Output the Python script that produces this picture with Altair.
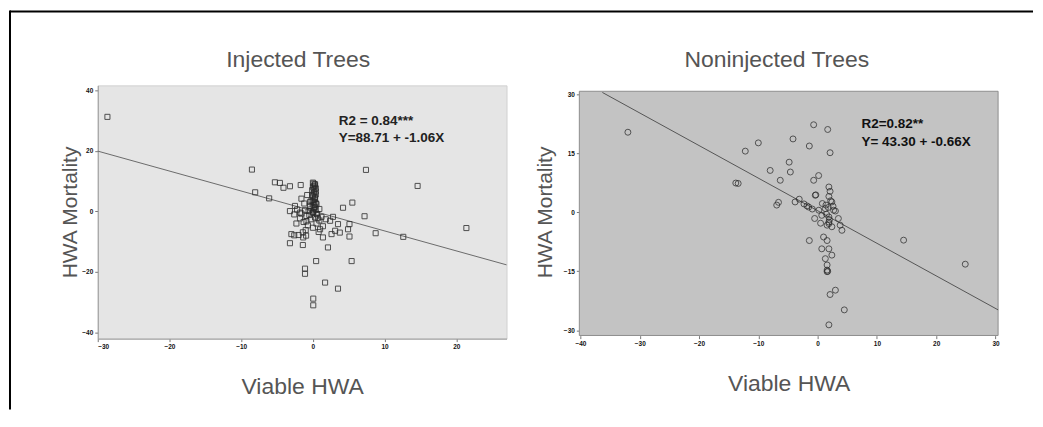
import altair as alt
import pandas as pd

FONT = "Liberation Sans"

# ---------------- data ----------------
inj_x = [-28.65, -8.5, -8.05, -6.1, -5.3, -4.6, -4.1, -3.2, -1.7, -3.2, -2.5, -1.8,
         4.2, 5.5, 7.2, 7.4, 14.6, 21.4, 8.75, 12.6, 5.1, -3.2, -1.4, -0.95, 0.45,
         5.4, -1.1, -1.1, 1.7, 3.5, 0.05, 0.05, 2.4, 3.5, 3.1, 2.6, 3.75, 5.1, 4.9,
         1.0, 1.4, 2.1, -3.0, -1.35, -2.0,
         0.0, 0.3, 0.1, 0.4, -0.1, 0.2, 0.4, 0.0, 0.3, -0.2, 0.2, 0.5, -0.4, 0.1,
         0.4, -0.6, 0.0, 0.6, -0.9, 0.3, -0.3, 0.9, -1.3, 0.5, -0.7, 1.4, 0.0,
         -1.8, -2.3, -1.2, -1.6, 1.2, 1.8, -2.6, -0.8, 0.9, -1.0, 0.8, 2.8,
         0.1, 0.3, 0.0, 0.2, 0.4, 0.1, -0.1, 0.3, 0.2, 0.0, 0.4, 0.1, 0.3, -0.2,
         0.2, 0.0, 0.5, -0.5, -1.1, -0.4, -1.6, -2.2, -0.9, 0.7, -1.4, -2.6]
inj_y = [31.2, 13.8, 6.3, 4.3, 9.6, 9.4, 7.8, 8.3, 8.7, 0.1, 1.8, -0.4,
         1.2, 2.9, -1.6, 13.7, 8.4, -5.5, -7.2, -8.4, -8.3, -10.5, -11.1, -8.0, -16.4,
         -16.4, -18.9, -20.6, -23.5, -25.5, -28.8, -31.0, -3.1, -4.2, -6.4, -7.5, -7.0, -4.2, -5.9,
         -5.9, -8.6, -11.9, -7.5, -8.6, -7.8,
         9.5, 9.0, 8.3, 7.6, 7.0, 6.3, 5.6, 5.0, 4.3, 3.6, 3.0, 2.4, 1.8, 1.2,
         0.6, 0.1, -0.5, -1.0, -1.5, -2.0, -2.6, -3.0, -3.5, -4.0, -4.6, -4.9, -5.4,
         -2.3, -4.0, 2.6, 4.2, -1.8, -2.6, -1.0, 5.4, 0.8, -6.2, -6.8, -1.8,
         9.2, 8.6, 7.9, 7.3, 6.6, 5.9, 5.3, 4.7, 3.9, 3.3, 2.7, 2.1, 1.5, 0.9,
         0.3, -0.2, -0.8, -1.2, 0.4, 3.1, -0.7, 0.6, -3.3, -2.2, -6.9, -7.9]

non_x = [-32.0, -12.2, -10.0, -4.15, -0.67, 1.7, -1.4, 2.1, -4.8, -4.6, -8.0, -6.3,
         -13.8, -13.4, -0.67, 0.17, -0.3, -6.9, -6.6, -3.8, -3.1, -2.3, -1.5, -0.9,
         0.2, 1.3, 1.9, 1.9, 2.4, 3.0, 3.5, 1.9, 2.4, 3.8, 4.1, -0.5, 0.7, 1.6,
         -1.4, 1.0, 1.6, 0.7, 1.9, 1.3, 2.4, 1.6, 1.6, 1.6, 14.5, 24.9, 3.0, 2.1,
         4.5, 1.9, 2.6, -0.4, 0.8, 1.5, 2.7, -1.8, 0.5, 1.9, 2.2, 1.4,
         1.8, 2.0, 1.9, 1.7, 2.1]
non_y = [20.3, 15.5, 17.6, 18.6, 22.2, 21.0, 16.8, 15.1, 12.7, 10.2, 10.6, 8.1,
         7.4, 7.3, 8.1, 9.3, 4.4, 1.8, 2.5, 2.6, 3.3, 2.1, 1.3, 0.8,
         0.5, 0.9, 6.4, 4.0, 2.6, 0.3, -1.6, -2.5, -3.7, -3.3, -4.6, -1.6, -0.8, -3.3,
         -7.2, -6.3, -7.2, -9.3, -9.3, -11.8, -10.9, -13.4, -15.1, -14.7, -7.1, -13.2, -19.8, -20.9,
         -24.8, -28.6, 1.5, 4.3, 2.2, -0.5, 0.5, 1.6, -2.8, -1.2, 2.9, 1.8,
         1.2, -1.9, -2.9, -15.0, 5.3]

inj_line_x = [-30.0, 27.0]
inj_line_y = [19.9, -17.65]
non_line_x = [-36.3, 30.44]
non_line_y = [30.4, -24.8]

inj_x_ticks = [-30, -20, -10, 0, 10, 20]
inj_y_ticks = [-40, -20, 0, 20, 40]
non_x_ticks = [-40, -30, -20, -10, 0, 10, 20, 30]
non_y_ticks = [-30, -15, 0, 15, 30]

inj_dom_x = [-30.0, 27.0]
inj_dom_y = [-42.0, 41.6]
non_dom_x = [-40.19, 30.44]
non_dom_y = [-32.1, 32.2]
non_frame = {"x": [-40.19], "x2": [30.44], "y": [-31.3], "y2": [30.7]}

inj_text = ["R2 = 0.84***", "Y=88.71 + -1.06X"]
inj_text_x = [3.6, 3.6]
inj_text_y = [29.9, 24.3]
non_text = ["R2=0.82**", "Y= 43.30 + -0.66X"]
non_text_x = [7.4, 7.4]
non_text_y = [22.4, 17.8]

titles = ["Injected Trees", "Noninjected Trees"]
x_title = "Viable HWA"
y_title = "HWA Mortality"


def xaxis(vals, title_pad, offset=0, domain=True):
    return alt.Axis(values=vals, title=x_title, format="d", grid=False,
                    labelFontSize=6.5, labelFontWeight="bold", labelColor="#111",
                    labelFont=FONT, tickSize=3, tickColor="#777", labelPadding=2,
                    domain=domain, domainColor="#9a9a9a", offset=offset,
                    titleFont=FONT, titleFontSize=23, titleFontWeight="normal",
                    titleColor="#555", titlePadding=title_pad)


def yaxis(vals, title_pad, domain=True):
    return alt.Axis(values=vals, title=y_title, format="d", grid=False,
                    labelFontSize=6.5, labelFontWeight="bold", labelColor="#111",
                    labelFont=FONT, tickSize=3, tickColor="#777", labelPadding=2,
                    domain=domain, domainColor="#9a9a9a",
                    titleFont=FONT, titleFontSize=21, titleFontWeight="normal",
                    titleColor="#555", titlePadding=title_pad)


one = pd.DataFrame({"a": [0]})


def title_mark(text, xpix):
    return alt.Chart(pd.DataFrame({"t": [text]})).mark_text(
        font=FONT, fontSize=23, color="#555", align="center", baseline="middle"
    ).encode(text="t:N", x=alt.value(xpix), y=alt.value(-25))


# ---------------- left panel ----------------
inj_df = pd.DataFrame({"x": inj_x, "y": inj_y})
inj_line = pd.DataFrame({"x": inj_line_x, "y": inj_line_y})
inj_txt = pd.DataFrame({"x": inj_text_x, "y": inj_text_y, "t": inj_text})

xs_l = alt.Scale(domain=inj_dom_x, nice=False, zero=False)
ys_l = alt.Scale(domain=inj_dom_y, nice=False, zero=False)

pts_l = alt.Chart(inj_df).mark_point(shape="square", filled=False, size=26,
                                     color="#2a2a2a", strokeWidth=1, opacity=0.8).encode(
    x=alt.X("x:Q", scale=xs_l, axis=xaxis(inj_x_ticks, 26)),
    y=alt.Y("y:Q", scale=ys_l, axis=yaxis(inj_y_ticks, 1)),
)
line_l = alt.Chart(inj_line).mark_line(color="#6a6a6a", strokeWidth=1).encode(
    x=alt.X("x:Q", scale=xs_l), y=alt.Y("y:Q", scale=ys_l))
txt_l = alt.Chart(inj_txt).mark_text(align="left", baseline="middle", font=FONT,
                                     fontSize=13.5, fontWeight="bold", color="#222").encode(
    x=alt.X("x:Q", scale=xs_l), y=alt.Y("y:Q", scale=ys_l), text="t:N")

top_border = alt.Chart(one).mark_rule(color="#000", strokeWidth=2).encode(
    x=alt.value(-88), x2=alt.value(938), y=alt.value(-74))
left_border = alt.Chart(one).mark_rule(color="#000", strokeWidth=2).encode(
    x=alt.value(-88), y=alt.value(-75), y2=alt.value(325))

left = alt.layer(top_border, left_border, title_mark(titles[0], 201),
                 line_l, pts_l, txt_l).properties(
    width=410, height=254,
    view=alt.ViewBackground(fill="#e5e5e5", stroke="#d2d2d2", strokeWidth=1),
)

# ---------------- right panel ----------------
non_df = pd.DataFrame({"x": non_x, "y": non_y})
non_line = pd.DataFrame({"x": non_line_x, "y": non_line_y})
non_txt = pd.DataFrame({"x": non_text_x, "y": non_text_y, "t": non_text})
non_fr = pd.DataFrame(non_frame)

xs_r = alt.Scale(domain=non_dom_x, nice=False, zero=False)
ys_r = alt.Scale(domain=non_dom_y, nice=False, zero=False)

bg_r = alt.Chart(non_fr).mark_rect(fill="#c3c3c3", stroke="#8e8e8e", strokeWidth=1).encode(
    x=alt.X("x:Q", scale=xs_r, axis=xaxis(non_x_ticks, 26, offset=-3, domain=False)),
    x2="x2:Q",
    y=alt.Y("y:Q", scale=ys_r, axis=yaxis(non_y_ticks, 8, domain=False)),
    y2="y2:Q",
)
line_r = alt.Chart(non_line).mark_line(color="#555", strokeWidth=1).encode(
    x=alt.X("x:Q", scale=xs_r), y=alt.Y("y:Q", scale=ys_r))
pts_r = alt.Chart(non_df).mark_point(shape="circle", filled=False, size=36,
                                     color="#2a2a2a", strokeWidth=1, opacity=0.75).encode(
    x=alt.X("x:Q", scale=xs_r), y=alt.Y("y:Q", scale=ys_r))
txt_r = alt.Chart(non_txt).mark_text(align="left", baseline="middle", font=FONT,
                                     fontSize=13.5, fontWeight="bold", color="#111").encode(
    x=alt.X("x:Q", scale=xs_r), y=alt.Y("y:Q", scale=ys_r), text="t:N")

right = alt.layer(bg_r, title_mark(titles[1], 198), line_r, pts_r, txt_r).properties(
    width=420, height=254,
    view=alt.ViewBackground(fill=None, stroke=None),
)

chart = alt.hconcat(left, right, spacing=73, bounds="flush").properties(
    padding=0, background="white"
).configure_view(strokeWidth=1)

chart.save("out.html", embed_options={"renderer": "svg", "actions": False})
